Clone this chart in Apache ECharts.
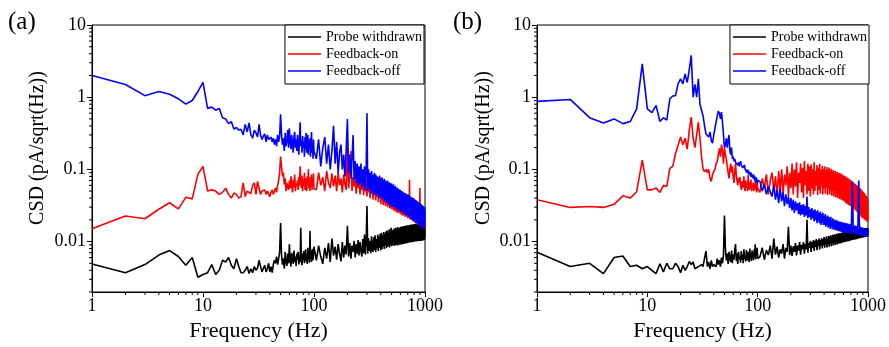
<!DOCTYPE html>
<html><head><meta charset="utf-8">
<script src="https://cdn.jsdelivr.net/npm/echarts@6/dist/echarts.min.js"></script>
<style>html,body{margin:0;padding:0;background:#fff}#c{width:889px;height:347px}</style>
</head><body><div id="c"></div>
<script>
// ---- data ----
const freqs = [1,2,3,4,5,6,7,8,9,10,11,12,13,14,15,16,17,18,19,20,21,22,23,24,25,26,27,28,29,30,
31,32,33,34,35,36,37,38,39,40,41,42,43,44,45,46,47,48,49,50,51,52,53,54,55,56,57,58,59,60,
61,62,63,64,65,66,67,68,69,70,71,72,73,74,75,76,77,78,79,80,81,82,83,84,85,86,87,88,89,90,
91,92,93,94,95,96,97,98,99,100,
105,110,115,120,125,130,135,140,145,150,155,160,165,170,175,180,185,190,195,200,
205,210,215,220,225,230,235,240,245,250,255,260,265,270,275,280,285,290,295,300,
305,310,315,320,325,330,335,340,345,350,355,360,365,370,375,380,385,390,395,400,
405,410,415,420,425,430,435,440,445,450,455,460,465,470,475,480,485,490,495,500,
505,510,515,520,525,530,535,540,545,550,555,560,565,570,575,580,585,590,595,600,
605,610,615,620,625,630,635,640,645,650,655,660,665,670,675,680,685,690,695,700,
705,710,715,720,725,730,735,740,745,750,755,760,765,770,775,780,785,790,795,800,
805,810,815,820,825,830,835,840,845,850,855,860,865,870,875,880,885,890,895,900,
905,910,915,920,925,930,935,940,945,950,955,960,965,970,975,980,985,990,995,1000];

const seriesNames = ['Probe withdrawn','Feedback-on','Feedback-off'];
const xTickLabels = ['1','10','100','1000'];
const yTickLabels = ['0.01','0.1','1','10'];
const xMinor = [2,3,4,5,6,7,8,9,20,30,40,50,60,70,80,90,200,300,400,500,600,700,800,900];
const yMinor = [0.002,0.003,0.004,0.005,0.006,0.007,0.008,0.009,0.02,0.03,0.04,0.05,0.06,0.07,0.08,0.09,0.2,0.3,0.4,0.5,0.6,0.7,0.8,0.9,2,3,4,5,6,7,8,9];

// panel (a)
const aProbe = [
0.0049,0.0037,0.0048,0.0065,0.0075,0.0062,0.0047,0.006,0.0032,0.0035,
0.0037,0.0048,0.0035,0.004,0.0055,0.0052,0.006,0.0047,0.0042,0.0058,
0.0045,0.0037,0.0037,0.004,0.0045,0.0036,0.0042,0.0037,0.0045,0.004,
0.0043,0.0055,0.0045,0.0038,0.004,0.0047,0.0038,0.0042,0.005,0.0038,
0.0045,0.0037,0.0048,0.0055,0.005,0.0062,0.0048,0.0058,0.007,0.018,
0.0065,0.0048,0.0058,0.0042,0.0072,0.0052,0.0046,0.0068,0.005,0.0092,
0.0055,0.0045,0.007,0.0058,0.0049,0.0075,0.0052,0.0062,0.0046,0.0068,
0.0056,0.0072,0.0048,0.0064,0.0052,0.0155,0.0058,0.0047,0.0069,0.0055,
0.0074,0.005,0.0062,0.0078,0.0053,0.0066,0.0049,0.0082,0.0058,0.0063,
0.0051,0.014,0.0057,0.0075,0.0052,0.0068,0.0079,0.0055,0.0065,0.0085,
0.0055,0.0088,0.0062,0.0049,0.0082,0.0058,0.0095,0.0052,0.011,0.0064,
0.0085,0.0056,0.0092,0.0068,0.0053,0.0098,0.006,0.0088,0.0066,0.0165,
0.0062,0.0095,0.0058,0.0088,0.0072,0.0102,0.006,0.0092,0.0068,0.0105,
0.0064,0.0098,0.0075,0.0062,0.0108,0.0069,0.0125,0.0066,0.0098,0.031,
0.0068,0.0112,0.0074,0.0102,0.0069,0.0118,0.0078,0.0072,0.0115,0.0076,
0.0122,0.0072,0.0108,0.008,0.0125,0.0074,0.0118,0.0082,0.0128,0.0076,
0.0132,0.0078,0.0122,0.0085,0.0135,0.0079,0.0128,0.0088,0.0138,0.0081,
0.0142,0.0084,0.0132,0.009,0.0148,0.0083,0.0138,0.0092,0.0155,0.0086,
0.0145,0.0088,0.0138,0.0095,0.0152,0.0087,0.0142,0.0096,0.0155,0.0089,
0.0148,0.0092,0.0158,0.0088,0.0145,0.0098,0.0156,0.009,0.015,0.0097,
0.016,0.0091,0.0152,0.0099,0.0162,0.0092,0.0155,0.0101,0.0164,0.0093,
0.0158,0.0102,0.0166,0.0094,0.0158,0.0103,0.0168,0.0095,0.016,0.0104,
0.0168,0.0096,0.0162,0.0105,0.017,0.0097,0.0164,0.0105,0.0172,0.0098,
0.0165,0.0106,0.0172,0.0098,0.0166,0.0107,0.0174,0.0099,0.0168,0.0108,
0.0175,0.01,0.0168,0.0108,0.0176,0.01,0.017,0.0109,0.0176,0.0101,
0.0171,0.011,0.0178,0.0101,0.0172,0.011,0.0178,0.0102,0.0173,0.0111,
0.0179,0.0102,0.0173,0.0111,0.018,0.0103,0.0174,0.0112,0.018,0.0103,
0.0175,0.0112,0.018,0.0104,0.0176,0.0112,0.0178,0.0105,0.0172,0.0115];

const aOn = [
0.015,0.0226,0.0207,0.028,0.0345,0.0284,0.041,0.039,0.086,0.11,
0.05,0.052,0.05,0.045,0.048,0.055,0.045,0.04,0.047,0.045,
0.04,0.042,0.065,0.042,0.05,0.052,0.046,0.06,0.065,0.045,
0.068,0.068,0.045,0.05,0.048,0.052,0.045,0.05,0.05,0.042,
0.048,0.052,0.045,0.05,0.055,0.048,0.06,0.07,0.09,0.15,
0.11,0.08,0.09,0.062,0.075,0.05,0.065,0.058,0.052,0.07,
0.055,0.08,0.06,0.048,0.072,0.056,0.085,0.05,0.064,0.058,
0.07,0.052,0.078,0.06,0.11,0.068,0.055,0.082,0.05,0.072,
0.058,0.09,0.052,0.066,0.075,0.05,0.08,0.062,0.1,0.055,
0.068,0.05,0.078,0.058,0.085,0.052,0.07,0.06,0.088,0.054,
0.052,0.09,0.06,0.078,0.05,0.095,0.065,0.055,0.088,0.058,
0.082,0.05,0.092,0.06,0.075,0.048,0.085,0.062,0.052,0.2,
0.055,0.082,0.18,0.05,0.078,0.058,0.07,0.046,0.08,0.055,
0.072,0.045,0.068,0.052,0.075,0.044,0.065,0.05,0.07,0.042,
0.062,0.048,0.066,0.04,0.058,0.046,0.063,0.038,0.056,0.044,
0.06,0.037,0.054,0.042,0.058,0.035,0.052,0.04,0.055,0.033,
0.05,0.038,0.053,0.032,0.048,0.036,0.05,0.031,0.046,0.035,
0.048,0.03,0.044,0.034,0.046,0.029,0.042,0.033,0.045,0.028,
0.041,0.032,0.043,0.027,0.04,0.031,0.042,0.026,0.038,0.03,
0.04,0.025,0.037,0.029,0.039,0.025,0.036,0.028,0.038,0.024,
0.035,0.027,0.037,0.023,0.034,0.027,0.036,0.023,0.033,0.026,
0.035,0.022,0.032,0.025,0.034,0.022,0.031,0.025,0.033,0.021,
0.03,0.024,0.032,0.021,0.072,0.024,0.031,0.02,0.029,0.023,
0.031,0.02,0.028,0.023,0.03,0.019,0.028,0.022,0.029,0.019,
0.027,0.021,0.029,0.018,0.026,0.021,0.028,0.018,0.026,0.02,
0.027,0.017,0.025,0.02,0.027,0.017,0.025,0.019,0.026,0.055,
0.024,0.019,0.026,0.016,0.024,0.018,0.025,0.016,0.023,0.018,
0.025,0.016,0.023,0.017,0.024,0.015,0.022,0.017,0.024,0.015];

const aOff = [
2.0,1.5,1.05,1.2,1.1,0.95,0.8,0.9,1.2,1.6,
0.7,0.73,0.66,0.7,0.52,0.5,0.43,0.46,0.36,0.38,
0.35,0.36,0.3,0.42,0.33,0.44,0.3,0.27,0.35,0.32,
0.28,0.42,0.3,0.26,0.29,0.31,0.24,0.3,0.26,0.25,
0.28,0.24,0.27,0.22,0.26,0.21,0.3,0.24,0.28,0.58,
0.3,0.22,0.27,0.18,0.32,0.21,0.25,0.35,0.2,0.37,
0.24,0.19,0.3,0.22,0.17,0.28,0.33,0.2,0.26,0.18,
0.3,0.22,0.16,0.27,0.45,0.21,0.25,0.17,0.29,0.2,
0.24,0.15,0.28,0.19,0.32,0.17,0.23,0.3,0.16,0.25,
0.19,0.27,0.15,0.22,0.33,0.17,0.21,0.14,0.26,0.18,
0.14,0.26,0.11,0.2,0.28,0.12,0.22,0.1,0.18,0.4,
0.12,0.24,0.09,0.17,0.22,0.1,0.16,0.08,0.19,0.5,
0.09,0.16,0.075,0.14,0.3,0.07,0.13,0.065,0.12,0.06,
0.11,0.065,0.12,0.055,0.1,0.06,0.11,0.05,0.095,0.6,
0.05,0.1,0.055,0.09,0.046,0.095,0.05,0.085,0.044,0.09,
0.048,0.085,0.042,0.08,0.046,0.078,0.04,0.082,0.044,0.075,
0.04,0.078,0.037,0.072,0.04,0.074,0.035,0.07,0.038,0.068,
0.034,0.07,0.036,0.065,0.032,0.066,0.034,0.062,0.03,0.064,
0.033,0.06,0.03,0.062,0.032,0.057,0.029,0.059,0.031,0.055,
0.028,0.056,0.03,0.052,0.027,0.054,0.029,0.05,0.026,0.052,
0.028,0.049,0.026,0.05,0.027,0.047,0.025,0.048,0.026,0.046,
0.024,0.047,0.026,0.044,0.023,0.046,0.025,0.043,0.023,0.045,
0.024,0.042,0.022,0.044,0.023,0.041,0.021,0.042,0.022,0.04,
0.02,0.041,0.022,0.039,0.02,0.04,0.021,0.038,0.019,0.039,
0.021,0.037,0.019,0.038,0.02,0.036,0.018,0.037,0.019,0.035,
0.018,0.036,0.019,0.034,0.017,0.035,0.018,0.033,0.017,0.034,
0.018,0.032,0.016,0.033,0.017,0.031,0.016,0.032,0.016,0.03,
0.017,0.031,0.015,0.03,0.016,0.029,0.015,0.03,0.015,0.028];

// panel (b)
const bProbe = [
0.0071,0.0045,0.005,0.0036,0.006,0.0063,0.0045,0.0047,0.0042,0.0045,
0.004,0.0036,0.0049,0.0038,0.005,0.0042,0.0042,0.005,0.0045,0.0037,
0.0047,0.004,0.0045,0.0053,0.0048,0.0052,0.0042,0.004,0.0045,0.0043,
0.0048,0.0045,0.0059,0.0074,0.0045,0.0052,0.0042,0.0055,0.0045,0.0048,
0.005,0.0045,0.0058,0.0048,0.0055,0.0045,0.006,0.005,0.0065,0.023,
0.008,0.0055,0.0068,0.0049,0.0072,0.0058,0.0052,0.0075,0.005,0.0066,
0.0056,0.0078,0.0092,0.0054,0.0068,0.0049,0.0072,0.0058,0.0062,0.0051,
0.0074,0.0056,0.0066,0.005,0.0078,0.0058,0.0064,0.0053,0.0076,0.006,
0.0055,0.0072,0.0062,0.0052,0.008,0.0058,0.0068,0.0054,0.0075,0.006,
0.0066,0.0055,0.0078,0.0062,0.0092,0.0057,0.007,0.0061,0.0082,0.0058,
0.0062,0.0082,0.0056,0.0076,0.0065,0.0088,0.0058,0.011,0.0066,0.0085,
0.006,0.0078,0.0068,0.0092,0.0058,0.0082,0.0072,0.016,0.0065,0.0088,
0.0063,0.0086,0.0072,0.0095,0.0064,0.0088,0.0075,0.0098,0.0066,0.009,
0.0078,0.0098,0.0068,0.0092,0.0078,0.02,0.007,0.0095,0.0082,0.0102,
0.0072,0.0098,0.0082,0.0105,0.0074,0.0102,0.0084,0.0108,0.0076,0.0104,
0.0086,0.011,0.0078,0.0106,0.0088,0.0112,0.008,0.0108,0.0089,0.0115,
0.0082,0.011,0.0091,0.0118,0.0083,0.0113,0.0092,0.012,0.0085,0.0116,
0.0094,0.0122,0.0086,0.0118,0.0096,0.0125,0.0088,0.012,0.0098,0.0126,
0.009,0.0122,0.0099,0.0128,0.0091,0.0124,0.01,0.013,0.0093,0.0126,
0.0102,0.0131,0.0094,0.0128,0.0103,0.0133,0.0096,0.013,0.0104,0.0134,
0.0098,0.0131,0.0105,0.0136,0.0099,0.0132,0.0106,0.0137,0.01,0.0134,
0.0107,0.0138,0.0101,0.0135,0.0108,0.014,0.0102,0.0136,0.0109,0.0141,
0.0104,0.0138,0.011,0.016,0.0105,0.0139,0.0111,0.0143,0.0106,0.014,
0.0112,0.0144,0.0107,0.0141,0.0113,0.0146,0.0108,0.0142,0.0114,0.0147,
0.0109,0.0143,0.0115,0.0148,0.011,0.0144,0.0116,0.0149,0.0111,0.0145,
0.0117,0.015,0.0112,0.0146,0.0118,0.0151,0.0113,0.0147,0.0119,0.0152,
0.0114,0.0148,0.012,0.0153,0.0115,0.0149,0.012,0.0153,0.0116,0.015,
0.0121,0.0154,0.0117,0.015,0.0122,0.0155,0.0118,0.0151,0.0122,0.015];

const bOn = [
0.038,0.0297,0.0306,0.0297,0.0328,0.043,0.04,0.049,0.134,0.052,
0.052,0.055,0.048,0.06,0.058,0.103,0.11,0.166,0.215,0.28,
0.22,0.27,0.19,0.35,0.53,0.27,0.2,0.3,0.45,0.27,
0.15,0.1,0.093,0.1,0.09,0.1,0.075,0.068,0.085,0.093,
0.1,0.12,0.128,0.16,0.195,0.15,0.22,0.18,0.12,0.2,
0.16,0.14,0.11,0.09,0.075,0.1,0.12,0.09,0.11,0.08,
0.065,0.09,0.12,0.085,0.07,0.06,0.075,0.065,0.078,0.06,
0.052,0.068,0.055,0.062,0.08,0.058,0.05,0.07,0.056,0.064,
0.05,0.085,0.058,0.052,0.066,0.055,0.072,0.05,0.06,0.055,
0.065,0.05,0.062,0.055,0.07,0.052,0.06,0.048,0.066,0.055,
0.048,0.075,0.055,0.085,0.045,0.07,0.09,0.05,0.08,0.042,
0.095,0.05,0.1,0.045,0.085,0.06,0.11,0.042,0.09,0.055,
0.12,0.045,0.1,0.058,0.125,0.04,0.09,0.065,0.12,0.048,
0.105,0.04,0.13,0.06,0.095,0.045,0.12,0.05,0.11,0.042,
0.118,0.055,0.1,0.045,0.125,0.05,0.095,0.06,0.115,0.044,
0.105,0.052,0.12,0.046,0.098,0.058,0.112,0.045,0.102,0.055,
0.11,0.046,0.098,0.056,0.108,0.044,0.1,0.054,0.105,0.045,
0.095,0.052,0.102,0.043,0.092,0.05,0.098,0.042,0.09,0.05,
0.095,0.041,0.088,0.048,0.092,0.04,0.085,0.046,0.09,0.039,
0.083,0.045,0.088,0.038,0.08,0.044,0.085,0.037,0.078,0.042,
0.082,0.036,0.076,0.04,0.08,0.034,0.074,0.038,0.077,0.033,
0.072,0.037,0.075,0.032,0.07,0.035,0.072,0.031,0.068,0.034,
0.07,0.03,0.066,0.033,0.068,0.029,0.064,0.031,0.065,0.028,
0.062,0.03,0.063,0.027,0.06,0.029,0.061,0.026,0.058,0.028,
0.059,0.025,0.056,0.027,0.057,0.024,0.054,0.026,0.055,0.023,
0.052,0.025,0.053,0.022,0.05,0.024,0.051,0.021,0.048,0.023,
0.049,0.021,0.046,0.022,0.047,0.02,0.044,0.021,0.045,0.02,
0.042,0.02,0.043,0.019,0.04,0.02,0.041,0.019,0.038,0.02];

const bOff = [
0.875,0.93,0.52,0.44,0.5,0.43,0.46,0.69,2.9,0.69,
0.61,0.77,0.46,0.52,0.48,0.95,1.04,1.05,1.53,1.8,
1.53,2.1,1.6,2.4,3.8,1.0,1.5,1.0,1.8,0.8,
0.8,0.55,0.4,0.31,0.33,0.28,0.33,0.25,0.23,0.3,
0.37,0.45,0.55,0.64,0.6,0.5,0.62,0.45,0.3,0.2,
0.22,0.27,0.2,0.25,0.3,0.18,0.16,0.2,0.14,0.15,
0.13,0.14,0.125,0.12,0.13,0.115,0.125,0.11,0.12,0.13,
0.115,0.12,0.105,0.11,0.1,0.115,0.1,0.095,0.105,0.09,
0.1,0.088,0.095,0.085,0.092,0.08,0.09,0.078,0.085,0.082,
0.075,0.085,0.072,0.08,0.07,0.078,0.066,0.075,0.064,0.07,
0.068,0.05,0.062,0.045,0.058,0.055,0.042,0.06,0.038,0.052,
0.034,0.055,0.036,0.048,0.031,0.045,0.033,0.042,0.029,0.04,
0.027,0.038,0.025,0.036,0.027,0.034,0.024,0.035,0.023,0.032,
0.024,0.033,0.022,0.031,0.023,0.042,0.021,0.03,0.022,0.028,
0.02,0.029,0.021,0.027,0.019,0.028,0.02,0.026,0.018,0.027,
0.019,0.025,0.018,0.026,0.017,0.024,0.018,0.025,0.017,0.023,
0.017,0.024,0.016,0.022,0.017,0.023,0.0155,0.022,0.016,0.021,
0.015,0.022,0.016,0.02,0.0148,0.021,0.0155,0.02,0.0145,0.0195,
0.015,0.02,0.0142,0.019,0.0148,0.0195,0.014,0.0185,0.0145,0.019,
0.0138,0.0182,0.0143,0.0188,0.0136,0.018,0.014,0.0185,0.0134,0.0178,
0.0138,0.0182,0.0133,0.0176,0.0137,0.018,0.0132,0.0175,0.0135,0.0178,
0.013,0.0172,0.0134,0.0176,0.0129,0.017,0.0133,0.0174,0.0128,0.017,
0.013,0.022,0.035,0.068,0.045,0.025,0.014,0.0168,0.0127,0.0165,
0.0131,0.0167,0.0126,0.0163,0.013,0.0165,0.0125,0.0162,0.0129,0.0164,
0.0124,0.016,0.028,0.055,0.07,0.04,0.018,0.0158,0.0123,0.016,
0.0127,0.0157,0.0122,0.0158,0.0126,0.0155,0.0121,0.0156,0.0125,0.0153,
0.012,0.0154,0.0124,0.0152,0.0119,0.0153,0.0123,0.015,0.0118,0.0152,
0.0122,0.0149,0.0118,0.015,0.0121,0.0147,0.0117,0.0148,0.012,0.0145];

// ---- chart ----
const X_MIN = 1, X_MAX = 1000, Y_MIN = 0.002, Y_MAX = 10;
const FONT = 'Liberation Serif';
const colors = ['#000000','#ff0000','#0000ff'];
const panels = [
  {data:[aProbe,aOn,aOff], left:92, right:889-425, label:'(a)', labelX:8, titleX:38},
  {data:[bProbe,bOn,bOff], left:537, right:889-870, label:'(b)', labelX:453, titleX:484}
];
const TOP = 25, BOTTOM = 347-295;

const fmt = v => String(+Number(v).toPrecision(3));
const grids = [], xAxes = [], yAxes = [], series = [], legends = [], graphics = [];

panels.forEach((p, gi) => {
  grids.push({left:p.left, right:p.right, top:TOP, bottom:BOTTOM, show:true, borderColor:'#000', borderWidth:1, backgroundColor:'transparent'});
  xAxes.push({type:'log', logBase:10, gridIndex:gi, min:X_MIN, max:X_MAX,
    name:'Frequency (Hz)', nameLocation:'middle', nameGap:28,
    nameTextStyle:{fontFamily:FONT, fontSize:22, color:'#000'},
    axisLine:{lineStyle:{color:'#000', width:1}},
    axisTick:{length:5, lineStyle:{color:'#000'}},
    axisLabel:{fontFamily:FONT, fontSize:18, color:'#000', margin:5,
      formatter: v => { const s = fmt(v); return xTickLabels.includes(s) ? s : ''; }},
    splitLine:{show:false}});
  yAxes.push({type:'log', logBase:10, gridIndex:gi, min:Y_MIN, max:Y_MAX,
    axisLine:{show:true, lineStyle:{color:'#000', width:1}},
    axisTick:{show:true, length:5, lineStyle:{color:'#000'}},
    axisLabel:{fontFamily:FONT, fontSize:18, color:'#000', margin:6, showMinLabel:false,
      formatter: v => { const s = fmt(v); return yTickLabels.includes(s) ? s : ''; }},
    splitLine:{show:false}});
  p.data.forEach((vals, si) => {
    series.push({type:'line', name:seriesNames[si], xAxisIndex:gi, yAxisIndex:gi,
      data: freqs.map((f, i) => [f, vals[i]]),
      symbol:'none', showSymbol:false, animation:false,
      lineStyle:{color:colors[si], width:1.6}, itemStyle:{color:colors[si]}, z:2+si});
  });
  // minor ticks (outward)
  series.push({type:'custom', xAxisIndex:gi, yAxisIndex:gi, silent:true, clip:false, z:10,
    data: xMinor.map(v => [v, Y_MIN]),
    renderItem: (params, api) => { const c = api.coord([api.value(0), api.value(1)]);
      return {type:'line', shape:{x1:c[0], y1:c[1], x2:c[0], y2:c[1]+3}, style:{stroke:'#000', lineWidth:1}}; }});
  series.push({type:'custom', xAxisIndex:gi, yAxisIndex:gi, silent:true, clip:false, z:10,
    data: yMinor.map(v => [X_MIN, v]),
    renderItem: (params, api) => { const c = api.coord([api.value(0), api.value(1)]);
      return {type:'line', shape:{x1:c[0], y1:c[1], x2:c[0]-3, y2:c[1]}, style:{stroke:'#000', lineWidth:1}}; }});
  legends.push({data:seriesNames.map((n, si) => ({name:n, itemStyle:{color:colors[si]}})),
    orient:'vertical', right:p.right + 1, top:TOP,
    icon:'path://M0 0L33 0L33 1.6L0 1.6Z',
    itemWidth:33, itemHeight:14, itemGap:3, padding:[5,2,6,3],
    borderColor:'#000', borderWidth:1, backgroundColor:'#fff',
    textStyle:{fontFamily:FONT, fontSize:14, color:'#000'}, selectedMode:false});
  graphics.push({type:'text', x:p.labelX, y:10, style:{text:p.label, font:'25px "Liberation Serif"', fill:'#000'}});
  graphics.push({type:'text', x:p.titleX, y:148, rotation:Math.PI/2,
    style:{text:'CSD (pA/sqrt(Hz))', font:'20px "Liberation Serif"', fill:'#000', textAlign:'center', textVerticalAlign:'middle'}});
});

const chart = echarts.init(document.getElementById('c'), null, {renderer:'canvas'});
chart.setOption({animation:false, backgroundColor:'#fff',
  grid:grids, xAxis:xAxes, yAxis:yAxes, series:series, legend:legends, graphic:graphics});
</script></body></html>
